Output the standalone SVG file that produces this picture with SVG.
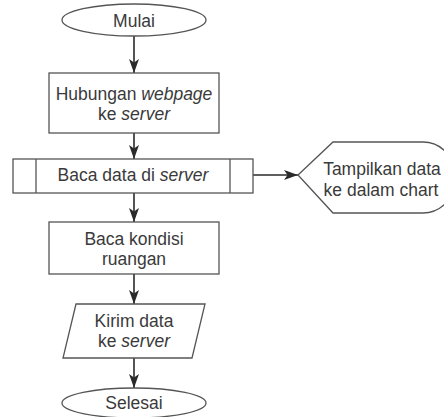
<svg xmlns="http://www.w3.org/2000/svg" width="444" height="417" viewBox="0 0 444 417">
  <style>
    .shape { fill: #ffffff; stroke: #555555; stroke-width: 1.3; }
    .conn { fill: none; stroke: #2a2a2a; stroke-width: 1.6; marker-end: url(#arrow); }
    text { font-family: "Liberation Sans", Arial, sans-serif; font-size: 17.5px; fill: #3a3a3a; text-anchor: middle; }
    .it { font-style: italic; }
  </style>
  <defs>
    <marker id="arrow" markerUnits="userSpaceOnUse" markerWidth="15" markerHeight="11" refX="14" refY="5" orient="auto">
      <path d="M0,0 L14,5 L0,10 L3.5,5 Z" fill="#2a2a2a"/>
    </marker>
  </defs>
  <rect width="444" height="417" fill="#ffffff"/>

  <g id="connectors">
    <line class="conn" x1="134" y1="36" x2="134" y2="73"/>
    <line class="conn" x1="134" y1="133" x2="134" y2="159"/>
    <line class="conn" x1="134" y1="193" x2="134" y2="222"/>
    <line class="conn" x1="134" y1="274" x2="134" y2="304"/>
    <line class="conn" x1="134" y1="358" x2="134" y2="388"/>
    <line class="conn" x1="253" y1="175" x2="298" y2="175"/>
  </g>

  <g id="mulai">
    <ellipse class="shape" cx="134" cy="20" rx="72" ry="16"/>
    <text x="134" y="27">Mulai</text>
  </g>

  <g id="hubungan">
    <rect class="shape" x="49" y="73" width="170" height="60"/>
    <text x="134" y="100">Hubungan <tspan class="it">webpage</tspan></text>
    <text x="134" y="120">ke <tspan class="it">server</tspan></text>
  </g>

  <g id="baca-data">
    <rect class="shape" x="13" y="159" width="240" height="34"/>
    <line class="shape" x1="36" y1="159" x2="36" y2="193"/>
    <line class="shape" x1="230" y1="159" x2="230" y2="193"/>
    <text x="133" y="181">Baca data di <tspan class="it">server</tspan></text>
  </g>

  <g id="tampilkan">
    <path class="shape" d="M298,175 L333,142 L423,142 A33,35.5 0 0 1 423,213 L333,213 Z"/>
    <text x="382" y="175">Tampilkan data</text>
    <text x="381" y="196">ke dalam chart</text>
  </g>

  <g id="baca-kondisi">
    <rect class="shape" x="49" y="222" width="170" height="52"/>
    <text x="134" y="245">Baca kondisi</text>
    <text x="134" y="265">ruangan</text>
  </g>

  <g id="kirim">
    <polygon class="shape" points="76,304 205,304 192,358 63,358"/>
    <text x="134" y="327">Kirim data</text>
    <text x="134" y="347">ke <tspan class="it">server</tspan></text>
  </g>

  <g id="selesai">
    <ellipse class="shape" cx="134" cy="403" rx="72" ry="15"/>
    <text x="134" y="409">Selesai</text>
  </g>
</svg>
